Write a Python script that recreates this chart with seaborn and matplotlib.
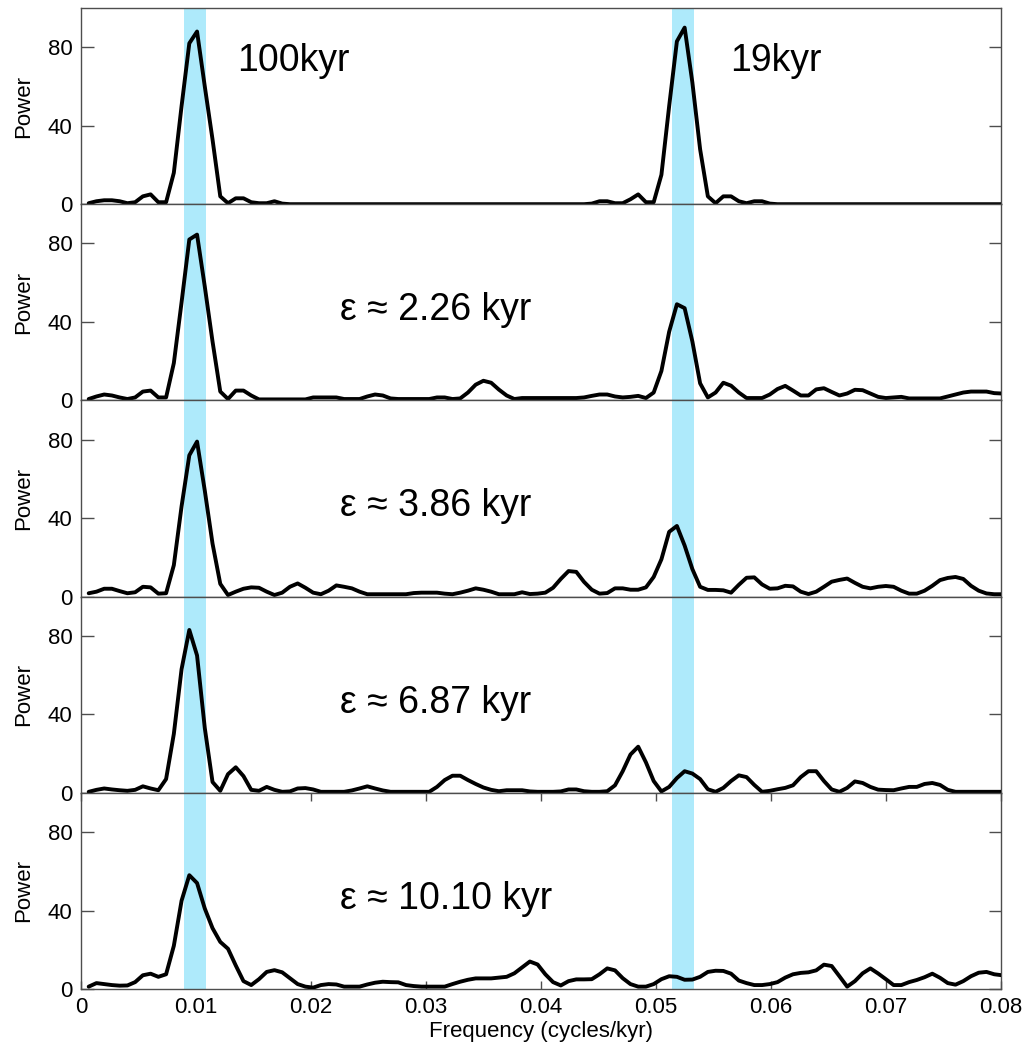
import numpy as np
import pandas as pd
import matplotlib
matplotlib.use("Agg")
import matplotlib.pyplot as plt
import seaborn as sns

# ---------------- data ----------------
df_step = 0.000673
freq = np.arange(1, 120) * df_step  # cycles/kyr

power_ref = [
    0.5, 1.5, 2, 2, 1.5, 0.5, 1, 4, 5, 1,
    1, 16, 50, 82, 88, 60, 33, 4, 0.5, 3,
    3, 1, 0.5, 0.5, 1.5, 0.3, 0, 0, 0, 0,
    0, 0, 0, 0, 0, 0, 0, 0, 0, 0,
    0, 0, 0, 0, 0, 0, 0, 0, 0, 0,
    0, 0, 0, 0, 0, 0, 0, 0, 0, 0,
    0, 0, 0, 0, 0, 0.3, 1.5, 1.5, 0.5, 0.5,
    2.5, 5, 1, 1, 15, 50, 83, 90, 62, 28,
    4, 0.5, 4, 4, 1.5, 0.5, 1.5, 1.5, 0.3, 0,
    0, 0, 0, 0, 0, 0, 0, 0, 0, 0,
    0, 0, 0, 0, 0, 0, 0, 0, 0, 0,
    0, 0, 0, 0, 0, 0, 0, 0, 0,
]
power_226 = [
    0.7, 2, 3, 2.5, 1.5, 0.7, 1.5, 4.5, 5, 1.5,
    1.5, 19, 50, 82, 84.5, 58, 30, 4.5, 0.7, 5,
    5, 2.5, 0.5, 0.5, 0.5, 0.5, 0.5, 0.5, 0.5, 1.5,
    1.5, 1.5, 1.5, 0.7, 0.7, 0.7, 2, 3, 2.5, 1,
    0.7, 0.7, 0.7, 0.7, 0.7, 1.5, 1.5, 0.7, 1, 4,
    8, 10, 9, 5.5, 2.5, 0.7, 1.2, 1.2, 1.2, 1.2,
    1.2, 1.2, 1.2, 1.2, 1.5, 2.3, 3, 3, 2, 1.5,
    1.8, 2.3, 1.2, 4, 15, 35, 49, 47, 30, 8.7,
    1.5, 4, 9, 7.5, 4, 1.2, 1.2, 1.2, 3, 5.8,
    7.4, 5, 2.5, 2.5, 5.6, 6.2, 4.3, 2.5, 3.5, 5.4,
    5.2, 3.5, 1.8, 1.2, 1.5, 1.8, 1, 1, 1, 1,
    1, 2, 3, 4, 4.5, 4.5, 4.5, 3.7, 3.5,
]
power_386 = [
    1.7, 2.5, 4, 4, 2.8, 1.7, 2.2, 5, 4.7, 1.5,
    1.7, 16, 46, 72, 79, 54, 27, 6.5, 0.8, 2.5,
    4, 4.7, 4.5, 2.5, 0.8, 2, 5, 6.7, 4.5, 2,
    1.2, 3, 5.7, 5, 4.2, 2.5, 1.2, 1.2, 1.2, 1.2,
    1.2, 1.2, 1.8, 2, 2, 2, 1.5, 1.2, 2, 3,
    4.2, 3.5, 2.5, 1.2, 1.2, 1.2, 2.2, 1.3, 1.5, 2,
    4.5, 9, 13, 12.6, 7.5, 3.5, 1.5, 1.8, 4.2, 4.2,
    3.5, 3.5, 4.7, 10, 19, 33, 36, 26, 14, 5,
    3.4, 3.4, 3.2, 2, 6, 9.6, 9.8, 6.2, 4, 4.2,
    5.5, 5.2, 2.5, 1.3, 2.5, 5, 7.6, 8.5, 9.2, 7,
    5, 4.2, 5, 5.4, 5, 3, 1.5, 1.5, 3, 5.5,
    8.4, 9.5, 10, 9, 5.5, 3, 1.6, 1.2, 1.2,
]
power_687 = [
    0.5, 1.5, 2.2, 1.7, 1.3, 1, 1.5, 3.3, 2.2, 1.3,
    7, 30, 63, 83, 70, 33, 5.5, 1, 9.5, 13,
    8.5, 1.5, 1, 3, 1.5, 0.5, 0.7, 2.2, 2.4, 1.7,
    0.5, 0.5, 0.5, 0.5, 1.2, 2.2, 3.3, 2.2, 1.2, 0.5,
    0.5, 0.5, 0.5, 0.5, 0.5, 3, 6.5, 8.7, 8.7, 6.5,
    4.5, 2.7, 1.5, 0.8, 1.3, 1.3, 1.3, 0.7, 0.5, 0.5,
    0.5, 0.7, 1.7, 1.7, 0.8, 0.5, 0.5, 0.8, 3.8, 11,
    19.5, 23.5, 15.5, 6, 0.7, 3, 7.5, 11, 9.8, 7,
    1.8, 0.5, 2.5, 6, 8.9, 8, 4, 0.5, 1, 1.8,
    2.5, 3.8, 8, 11, 11, 6, 1.7, 0.5, 2.5, 5.8,
    5, 3, 1.6, 1.4, 1.3, 2.2, 3, 3, 4.5, 5,
    4, 1.5, 0.5, 0.5, 0.5, 0.5, 0.5, 0.5, 0.5,
]
power_1010 = [
    1.2, 3, 2.5, 2, 1.7, 1.8, 3.5, 7, 7.8, 6.2,
    7.5, 22, 45, 58, 54, 41, 31, 24, 20.5, 12,
    4, 2, 5, 8.7, 9.6, 8.5, 5.5, 2.5, 1.2, 0.7,
    2, 2.5, 2.3, 1.2, 1.2, 1.2, 2.3, 3.2, 3.7, 3.5,
    3.4, 2, 1.5, 1.2, 1.2, 1.2, 1.2, 2.5, 3.7, 4.7,
    5.4, 5.4, 5.4, 5.8, 6.2, 8, 11, 14, 12.5, 7.5,
    3.5, 1.8, 4, 4.9, 4.9, 5, 7.5, 10.5, 9.5, 5.5,
    2.5, 1.2, 1.2, 2.5, 5, 6.5, 6.2, 4.7, 4.8, 6.2,
    8.7, 9.3, 9.2, 7.8, 4.3, 3, 2, 2, 2.5, 3.5,
    5.8, 7.5, 8.2, 8.5, 9.5, 12.4, 11.7, 6.5, 1.2, 4,
    8, 10.5, 7.9, 5, 2, 2, 3.5, 4.6, 6, 7.8,
    5.7, 3, 2.2, 4, 6.5, 8.3, 8.7, 7.5, 7,
]

panel_series = [power_ref, power_226, power_386, power_687, power_1010]
panel_labels = ["", "ε ≈ 2.26 kyr", "ε ≈ 3.86 kyr", "ε ≈ 6.87 kyr", "ε ≈ 10.10 kyr"]
band_ranges = [(0.00893, 0.01084), (0.05142, 0.05333)]
y_ticks = [0, 40, 80]
x_ticks = [0, 0.01, 0.02, 0.03, 0.04, 0.05, 0.06, 0.07, 0.08]
x_tick_labels = ["0", "0.01", "0.02", "0.03", "0.04", "0.05", "0.06", "0.07", "0.08"]

# ---------------- style ----------------
sns.set_style("ticks")
plt.rcParams["font.family"] = ["Liberation Sans", "DejaVu Sans"]
plt.rcParams["text.color"] = "black"
plt.rcParams["axes.labelcolor"] = "black"
plt.rcParams["xtick.color"] = "black"
plt.rcParams["ytick.color"] = "black"

fig, axes = plt.subplots(5, 1, figsize=(10.3, 10.51), dpi=100, sharex=True)
fig.subplots_adjust(left=0.0786, right=0.9718, top=0.9924, bottom=0.059, hspace=0)

spine_col = "#4d4d4d"
band_col = "#aeeafb"

for i, (ax, vals) in enumerate(zip(axes, panel_series)):
    for lo, hi in band_ranges:
        ax.axvspan(lo, hi, color=band_col, lw=0, zorder=1)
    d = pd.DataFrame({"freq": freq, "power": vals})
    sns.lineplot(data=d, x="freq", y="power", ax=ax, color="black", lw=2.8,
                 zorder=3, solid_joinstyle="round", solid_capstyle="round")
    ax.set_xlim(0, 0.08)
    ax.set_ylim(0, 100)
    ax.set_yticks(y_ticks)
    ax.set_yticklabels([str(t) for t in y_ticks])
    ax.tick_params(axis="y", direction="in", length=9, width=1, right=True,
                   labelsize=16, pad=6, color=spine_col, labelcolor="black")
    for s in ax.spines.values():
        s.set_visible(True)
        s.set_color(spine_col)
        s.set_linewidth(1.0)
    ax.set_ylabel("Power", fontsize=16, labelpad=10, color="black")
    ax.set_xlabel("")
    if i < 4:
        ax.tick_params(axis="x", which="both", length=0, labelbottom=False)
    if panel_labels[i]:
        ax.text(0.02252, 46, panel_labels[i], fontsize=27, va="center", ha="left",
                color="black", zorder=4)

axes[0].text(0.01357, 73, "100kyr", fontsize=27, va="center", ha="left", color="black", zorder=4)
axes[0].text(0.05643, 73, "19kyr", fontsize=27, va="center", ha="left", color="black", zorder=4)

ax = axes[-1]
ax.set_xticks(x_ticks)
ax.set_xticklabels(x_tick_labels)
ax.tick_params(axis="x", direction="in", length=6, width=1, top=True, bottom=True,
               labelbottom=True, labelsize=16, pad=6, color=spine_col, labelcolor="black")
ax.set_xlabel("Frequency (cycles/kyr)", fontsize=16, labelpad=2, color="black")

fig.savefig("out.png", dpi=100)
